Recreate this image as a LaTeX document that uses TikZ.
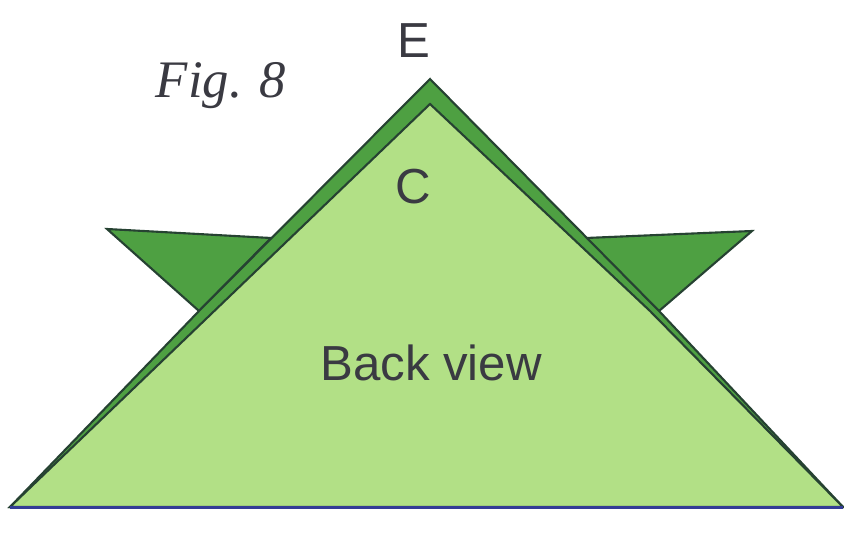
\documentclass[tikz,border=0pt]{standalone}
\usepackage{xcolor}
\usepackage{fontspec}
\setmainfont{Liberation Sans}
\newfontfamily\figfont{Liberation Serif}
\definecolor{foldDark}{RGB}{78,160,66}
\definecolor{foldLight}{RGB}{178,224,134}
\definecolor{foldEdge}{RGB}{38,66,50}
\definecolor{labelGrey}{RGB}{58,58,66}
\definecolor{baseBlue}{RGB}{52,60,150}
\tikzset{
  foldFlap/.style={draw=foldEdge,fill=foldDark,line width=1.2pt,line join=miter},
  foldFace/.style={draw=foldEdge,fill=foldLight,line width=1.2pt,line join=miter},
  foldLabel/.style={text=labelGrey,inner sep=0pt,font=\fontsize{28}{30}\selectfont}
}

\begin{document}
\begin{tikzpicture}[x=1cm,y=1cm]
\path[use as bounding box] (0,0) rectangle (16.88,-10.66);

\draw[foldFlap] (2.14,-4.58) -- (5.42,-4.76) -- (3.98,-6.22) -- cycle;
\draw[foldFlap] (11.72,-4.76) -- (15.04,-4.62) -- (13.18,-6.22) -- cycle;
\draw[foldFlap] (8.60,-1.58) -- (13.20,-6.24) -- (16.86,-10.14) -- (0.20,-10.14) -- (3.98,-6.22) -- cycle;
\draw[foldFace] (8.60,-2.08) -- (13.00,-6.22) -- (16.86,-10.14) -- (0.20,-10.14) -- cycle;
\draw[baseBlue,line width=1.5pt] (0.20,-10.15) -- (16.86,-10.15);

\node[foldLabel] (labelE) at (8.28,-0.82) {E};
\node[foldLabel] (labelC) at (8.26,-3.74) {C};
\node[foldLabel] (labelBack) at (8.62,-7.26) {Back view};
\node[foldLabel,font=\figfont\itshape\fontsize{30}{32}\selectfont] (labelFig) at (4.42,-1.72) {Fig. 8};
\end{tikzpicture}
\end{document}
